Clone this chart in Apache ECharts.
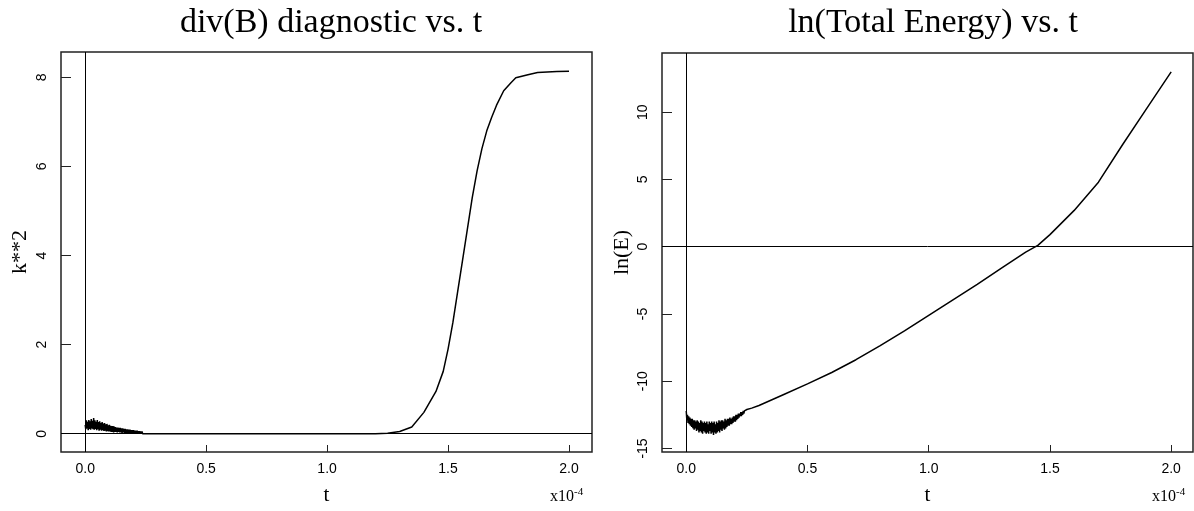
<!DOCTYPE html>
<html><head><meta charset="utf-8">
<script src="https://cdn.jsdelivr.net/npm/echarts@6/dist/echarts.min.js"></script>
<style>html,body{margin:0;padding:0;background:#fff}#c{width:1194px;height:511px}</style>
</head><body><div id="c"></div>
<script>
// ---- data ----
const xTicks = [0, 0.5, 1.0, 1.5, 2.0];
const leftYTicks = [0, 2, 4, 6, 8];
const rightYTicks = [-15, -10, -5, 0, 5, 10];
const noiseStep = 0.0025; // sampling step of the noisy start (x10^-4)
const divNoise = [0.20,0.10,0.30,0.12,0.27,0.08,0.31,0.11,0.28,0.09,
  0.33,0.12,0.29,0.10,0.35,0.09,0.30,0.11,0.27,0.08,
  0.31,0.10,0.26,0.07,0.28,0.09,0.24,0.07,0.26,0.08,
  0.23,0.06,0.24,0.07,0.21,0.05,0.22,0.06,0.19,0.05,
  0.20,0.05,0.18,0.04,0.17,0.04,0.17,0.03,0.16,0.04,
  0.15,0.04,0.14,0.03,0.14,0.04,0.13,0.03,0.13,0.03,
  0.12,0.02,0.12,0.03,0.11,0.02,0.11,0.02,0.10,0.02,
  0.10,0.01,0.09,0.02,0.09,0.01,0.08,0.01,0.08,0.01,
  0.08,0.01,0.07,0.00,0.07,0.01,0.07,0.00,0.06,0.00,
  0.06,0.00,0.05,0.00,0.05,0.00,0.04,0.00,0.03,0.00,
  0.00];
const divT = [0.30,1.20,1.25,1.30,1.35,1.40,1.45,1.48,1.50,1.52,1.54,1.56,1.58,1.60,1.62,1.64,1.66,1.68,1.70,1.73,1.76,1.78,1.83,1.87,1.95,2.00];
const divV = [0.00,0.00,0.01,0.05,0.15,0.48,0.95,1.40,1.90,2.50,3.20,3.90,4.60,5.30,5.90,6.40,6.80,7.10,7.37,7.70,7.88,7.99,8.06,8.11,8.13,8.14];
const enNoise = [-12.2,-12.9,-12.5,-13.1,-12.6,-13.2,-12.7,-13.3,-12.8,-13.4,
  -12.8,-13.5,-12.9,-13.6,-12.9,-13.5,-13.0,-13.7,-12.9,-13.6,
  -13.0,-13.8,-13.1,-13.7,-12.9,-13.8,-13.0,-13.9,-13.1,-13.7,
  -13.0,-13.8,-13.1,-13.9,-13.0,-13.8,-13.2,-13.9,-13.0,-13.7,
  -13.1,-13.9,-13.0,-13.8,-13.1,-14.0,-13.0,-13.8,-13.2,-13.9,
  -13.0,-13.8,-13.1,-13.7,-12.9,-13.8,-13.0,-13.6,-12.9,-13.7,
  -12.9,-13.5,-13.0,-13.6,-12.8,-13.5,-12.9,-13.4,-12.8,-13.3,
  -12.8,-13.3,-12.7,-13.2,-12.8,-13.2,-12.7,-13.1,-12.6,-13.0,
  -12.6,-13.0,-12.5,-12.9,-12.5,-12.8,-12.4,-12.7,-12.4,-12.6,
  -12.3,-12.6,-12.3,-12.5,-12.2,-12.4,-12.2,-12.3,-12.1,-12.2,
  -12.1];
const enT = [0.27,0.30,0.40,0.50,0.60,0.70,0.80,0.90,1.00,1.10,1.20,1.30,1.40,1.45,1.50,1.60,1.70,1.80,1.90,2.00];
const enV = [-12.0,-11.8,-11.0,-10.2,-9.35,-8.4,-7.35,-6.25,-5.1,-3.95,-2.8,-1.6,-0.4,0.1,0.9,2.7,4.8,7.6,10.3,13.0];

function buildSeries(noise, ts, vs){
  const d = noise.map((v,i)=>[+(i*noiseStep).toFixed(5), v]);
  ts.forEach((t,i)=>d.push([t, vs[i]]));
  return d;
}
const divData = buildSeries(divNoise, divT, divV);
const enData = buildSeries(enNoise, enT, enV);

const serif = 'Liberation Serif';
const sans = 'Liberation Sans';
function xAx(gi){
  return {type:'value', gridIndex:gi, min:-0.1, max:gi===0?2.095:2.09,
    axisLine:{show:false, onZero:false}, splitLine:{show:false},
    axisTick:{show:true, inside:true, length:7, lineStyle:{color:'#222',width:1}, customValues:xTicks},
    axisLabel:{customValues:xTicks, formatter:v=>v.toFixed(1), color:'#000', fontFamily:sans, fontSize:14, margin:10},
    name:'t', nameLocation:'middle', nameGap:33, nameTextStyle:{fontFamily:serif, fontSize:21, color:'#000'}};
}
function yAx(gi, min, max, ticks, name, gap){
  return {type:'value', gridIndex:gi, min:min, max:max,
    axisLine:{show:false, onZero:false}, splitLine:{show:false},
    axisTick:{show:true, inside:true, length:10, lineStyle:{color:'#222',width:1}, customValues:ticks},
    axisLabel:{customValues:ticks, rotate:90, color:'#000', fontFamily:sans, fontSize:14, margin:12},
    name:name, nameLocation:'middle', nameGap:gap, nameRotate:90, nameTextStyle:{fontFamily:serif, fontSize:22, color:'#000'}};
}
const zeroLines = {symbol:'none', silent:true, label:{show:false},
  lineStyle:{color:'#000', width:1, type:'solid'}, data:[{xAxis:0},{yAxis:0}]};
const expText = {text:'{a|x10}{b|-4}', rich:{a:{fontFamily:serif,fontSize:16,fill:'#000'},b:{fontFamily:serif,fontSize:11,fill:'#000',verticalAlign:'top',padding:[0,0,9,0]}}};

const chart = echarts.init(document.getElementById('c'), null, {renderer:'canvas'});
chart.setOption({
  animation:false,
  backgroundColor:'#fff',
  title:[
    {text:'div(B) diagnostic vs. t', left:326, top:1, textAlign:'center', textStyle:{fontFamily:serif, fontSize:34, fontWeight:'normal', color:'#000'}},
    {text:'ln(Total Energy) vs. t', left:928, top:1, textAlign:'center', textStyle:{fontFamily:serif, fontSize:34, fontWeight:'normal', color:'#000'}}
  ],
  grid:[
    {left:61, top:52, width:531, height:410, show:true, borderColor:'#222', borderWidth:1.5, containLabel:false},
    {left:662, top:53, width:531, height:408, show:true, borderColor:'#222', borderWidth:1.5, containLabel:false}
  ],
  xAxis:[xAx(0), xAx(1)],
  yAxis:[yAx(0,-0.41,8.57,leftYTicks,'k**2',30), yAx(1,-15.26,14.4,rightYTicks,'ln(E)',29)],
  graphic:[
    {type:'text', left:550, top:487, style:expText},
    {type:'text', left:1152, top:487, style:expText}
  ],
  series:[
    {type:'line', xAxisIndex:0, yAxisIndex:0, data:divData, showSymbol:false, lineStyle:{color:'#000', width:1.5}, markLine:zeroLines},
    {type:'line', xAxisIndex:1, yAxisIndex:1, data:enData, showSymbol:false, lineStyle:{color:'#000', width:1.5}, markLine:zeroLines}
  ]
});
</script></body></html>
